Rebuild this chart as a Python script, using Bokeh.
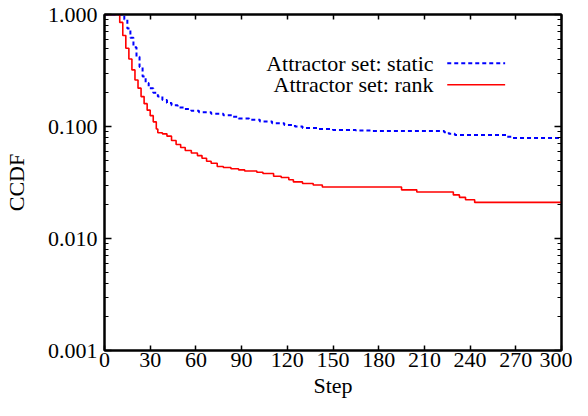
from bokeh.plotting import figure
from bokeh.models import (LogAxis, LinearAxis, FixedTicker, LogTicker,
                          PrintfTickFormatter, CustomJSTickFormatter, Label, Arrow)
from bokeh.embed import file_html
from bokeh.resources import INLINE

# ---- data ----
rank_step = [0, 9, 10, 12, 14, 16, 18, 20, 22, 24, 26, 28, 30, 32, 34, 35,
             38, 41, 44, 47, 50, 53, 57, 61, 64, 67, 70, 74, 78, 83, 88, 92,
             100, 104, 111, 116, 121, 124, 130, 137, 143, 195, 205, 229, 233,
             237, 243, 300]
rank_ccdf = [1.0, 1.0, 0.85, 0.65, 0.50, 0.40, 0.32, 0.26, 0.22, 0.185, 0.16,
             0.14, 0.125, 0.11, 0.095, 0.088, 0.086, 0.082, 0.075, 0.069,
             0.065, 0.061, 0.058, 0.055, 0.052, 0.049, 0.047, 0.044, 0.043,
             0.042, 0.041, 0.040, 0.039, 0.038, 0.036, 0.035, 0.0335, 0.032,
             0.031, 0.030, 0.0288, 0.0272, 0.0260, 0.0245, 0.0233, 0.0222,
             0.0210, 0.0210]

static_step = [0, 11, 13, 15, 17, 19, 21, 23, 25, 27, 29, 32, 35, 38, 41, 44,
               48, 52, 57, 62, 70, 78, 84, 88, 95, 102, 110, 118, 125, 130,
               140, 150, 165, 176, 223, 226, 230, 264, 268, 300]
static_ccdf = [1.0, 1.0, 0.90, 0.75, 0.62, 0.51, 0.42, 0.34, 0.28, 0.245,
               0.22, 0.20, 0.185, 0.172, 0.162, 0.155, 0.148, 0.143, 0.138,
               0.134, 0.130, 0.126, 0.122, 0.118, 0.115, 0.111, 0.107, 0.103,
               0.100, 0.097, 0.095, 0.093, 0.092, 0.091, 0.089, 0.086, 0.084,
               0.081, 0.079, 0.079]

x_ticks = [0, 30, 60, 90, 120, 150, 180, 210, 240, 270, 300]
y_ticks = [0.001, 0.01, 0.1, 1.0]
series_labels = ["Attractor set: static", "Attractor set: rank"]

FONT = "Liberation Serif, Times New Roman, serif"
FS = "22px"

p = figure(width=572, height=400, x_range=(0, 300), y_range=(0.001, 1.0),
           y_axis_type="log", output_backend="svg", toolbar_location=None,
           min_border_left=101, min_border_right=11, min_border_top=14,
           min_border_bottom=47)
p.grid.visible = False
p.outline_line_color = "black"
p.outline_line_width = 2
p.background_fill_color = "white"
p.border_fill_color = "white"

# static (blue dotted) and rank (red solid) CCDFs
p.step(static_step, static_ccdf, mode="after", line_color="#0000ff",
       line_width=2, line_dash="4 3")
p.step(rank_step, rank_ccdf, mode="after", line_color="#ff0000",
       line_width=1.6)

def style(ax):
    ax.axis_line_color = "black"
    ax.axis_line_width = 2
    ax.major_tick_line_color = "black"
    ax.major_tick_line_width = 1.5
    ax.minor_tick_line_color = "black"
    ax.minor_tick_line_width = 1.2
    ax.major_tick_out = 0
    ax.minor_tick_out = 0
    ax.major_label_text_font = FONT
    ax.major_label_text_font_size = FS
    ax.major_label_text_color = "black"
    ax.axis_label_text_font = FONT
    ax.axis_label_text_font_size = FS
    ax.axis_label_text_font_style = "normal"
    ax.axis_label_text_color = "black"

# bottom axis
xa = p.xaxis[0]
style(xa)
xa.ticker = FixedTicker(ticks=x_ticks)
xa.major_tick_in = 5
xa.minor_tick_line_color = None
xa.major_label_standoff = 2
xa.axis_label = "Step"
xa.axis_label_standoff = 3

# left axis
ya = p.yaxis[0]
style(ya)
ya.ticker = LogTicker(num_minor_ticks=10, desired_num_ticks=4)
ya.formatter = PrintfTickFormatter(format="%.3f")
ya.major_tick_in = 7
ya.minor_tick_in = 4
ya.major_label_standoff = 7
ya.axis_label = "CCDF"
ya.axis_label_standoff = 16

blank = CustomJSTickFormatter(code="return ''")

top = LinearAxis(ticker=FixedTicker(ticks=x_ticks), formatter=blank)
style(top)
top.major_tick_in = 5
top.minor_tick_line_color = None
top.major_label_text_font_size = "0px"
top.major_label_standoff = 0
p.add_layout(top, "above")

right = LogAxis(ticker=LogTicker(num_minor_ticks=10, desired_num_ticks=4),
                formatter=blank)
style(right)
right.major_tick_in = 7
right.minor_tick_in = 4
right.major_label_text_font_size = "0px"
right.major_label_standoff = 0
p.add_layout(right, "right")

# legend (text right-aligned, sample to the right, gnuplot style)
legend_rows = [(series_labels[0], 0.368, "#0000ff", "4 3", 2),
               (series_labels[1], 0.236, "#ff0000", "solid", 1.6)]
for text, yy, col, dash, lw in legend_rows:
    p.add_layout(Label(x=216, y=yy, text=text, text_align="right",
                       text_baseline="middle", text_font=FONT,
                       text_font_size=FS, text_color="black"))
    p.add_layout(Arrow(x_start=225, y_start=yy, x_end=263, y_end=yy,
                       end=None, start=None, line_color=col,
                       line_dash=dash, line_width=lw))

open("out.html", "w").write(file_html(p, INLINE))
